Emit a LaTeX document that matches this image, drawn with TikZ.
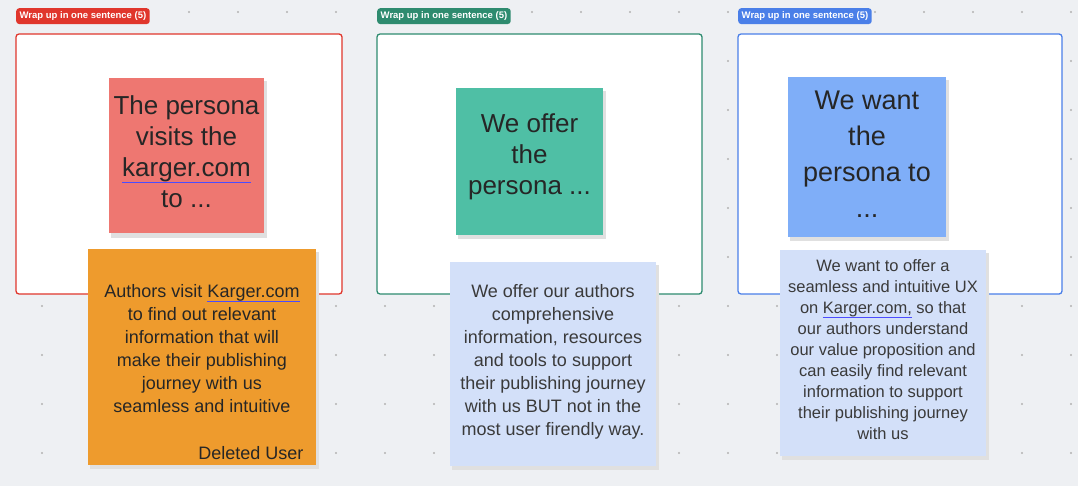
\documentclass[tikz,border=0pt]{standalone}
\usepackage{fontspec}
\setmainfont{Liberation Sans}
\definecolor{bg}{HTML}{EEF0F3}
\definecolor{fred}{HTML}{E0362C}
\definecolor{fgreen}{HTML}{2E8B6F}
\definecolor{fblue}{HTML}{4A7FE8}
\definecolor{sred}{HTML}{EE7771}
\definecolor{sorange}{HTML}{EE9B2D}
\definecolor{sgreen}{HTML}{4FBFA5}
\definecolor{slight}{HTML}{D3E0F9}
\definecolor{sblue}{HTML}{7FAEF8}
\definecolor{ink}{HTML}{3A3A3A}
\newcommand{\linkul}[1]{\setbox0\hbox{#1}\rlap{\color{blue!70}\rule[-0.22em]{\wd0}{0.7pt}}#1}
\tikzset{
  frame/.style={draw=#1,line width=1.3pt,fill=white,rounded corners=3pt},
  tag/.style={fill=#1,rounded corners=3pt,text=white,font=\fontsize{9.5}{10}\selectfont\bfseries,inner sep=3.5pt,anchor=north west},
  shade/.style={fill=black!12},
  big/.style={font=\fontsize{26}{31}\selectfont,text=black!85,align=center},
  small/.style={font=\fontsize{18}{23}\selectfont,text=ink,align=center}
}
\begin{document}
\begin{tikzpicture}[x=1pt,y=-1pt]
\fill[bg] (0,0) rectangle (1078,486);
\useasboundingbox (0,0) rectangle (1078,486);
% grid dots
\foreach \i in {0,...,21}{\foreach \j in {0,...,9}{
  \fill[black!30] (42+49*\i,12+49*\j) circle (1.1pt);}}
% frames
\draw[frame=fred] (16,34) rectangle (342,294);
\draw[frame=fgreen] (377,34) rectangle (702,294);
\draw[frame=fblue] (738,34) rectangle (1062,294);
\node[tag=fred] (t1) at (16,8) {Wrap up in one sentence (5)};
\node[tag=fgreen] (t2) at (377,8) {Wrap up in one sentence (5)};
\node[tag=fblue] (t3) at (738,8) {Wrap up in one sentence (5)};
% shadows
\fill[shade] (111,81) rectangle (267,238);
\fill[shade] (90,252) rectangle (319,469);
\fill[shade] (458,91) rectangle (606,239);
\fill[shade] (452,265) rectangle (659,470);
\fill[shade] (790,80) rectangle (949,241);
\fill[shade] (782,253) rectangle (989,460);
% stickies
\fill[sred] (109,78) rectangle (264,233);
\node[big] (s1) at (186.5,152) {The persona\\visits the\\\linkul{karger.com}\\to ...};
\fill[sorange] (88,249) rectangle (316,465);
\node[small,text=black!85] (o1) at (202,349) {Authors visit \linkul{Karger.com}\\to find out relevant\\information that will\\make their publishing\\journey with us\\seamless and intuitive};
\node[small,text=black!85,anchor=east] (u1) at (307,453) {Deleted User};
\fill[sgreen] (456,88) rectangle (603,235);
\node[big] (s2) at (529.5,157) {We offer\\the\\persona ...};
\fill[slight] (450,262) rectangle (656,466);
\node[small] (o2) at (553,362) {We offer our authors\\comprehensive\\information, resources\\and tools to support\\their publishing journey\\with us BUT not in the\\most user firendly way.};
\fill[sblue] (788,77) rectangle (946,237);
\node[big,font=\fontsize{27}{36}\selectfont] (s3) at (867,154) {We want\\the\\persona to\\...};
\fill[slight] (780,250) rectangle (986,456);
\node[small,font=\fontsize{16.5}{21}\selectfont] (o3) at (883,350) {We want to offer a\\seamless and intuitive UX\\on \linkul{Karger.com,} so that\\our authors understand\\our value proposition and\\can easily find relevant\\information to support\\their publishing journey\\with us};
\end{tikzpicture}
\end{document}
